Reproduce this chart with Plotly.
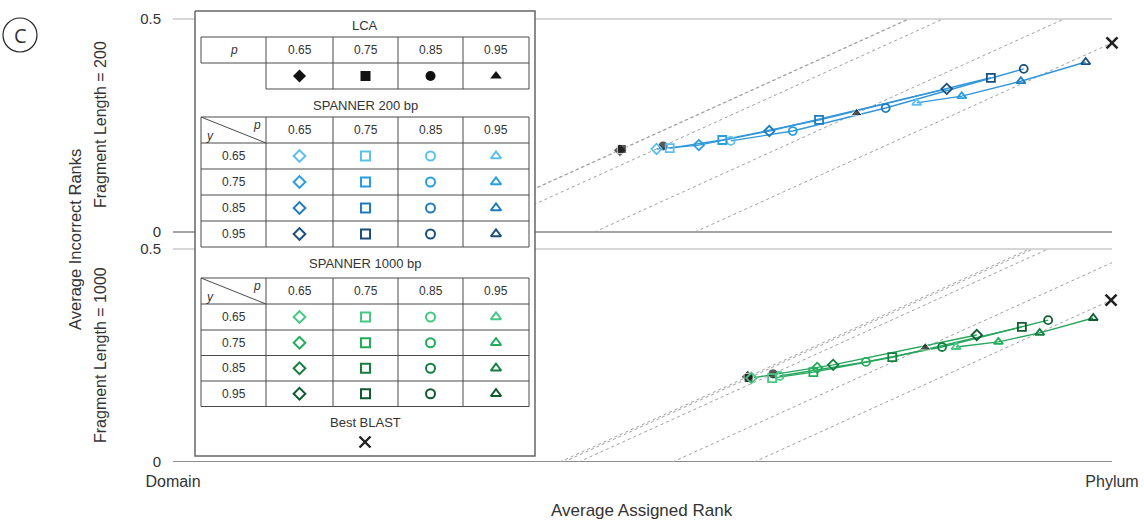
import plotly.graph_objects as go

# ---------------- data ----------------
P_LABELS = ["0.65", "0.75", "0.85", "0.95"]   # columns (p)
Y_LABELS = ["0.65", "0.75", "0.85", "0.95"]   # rows (y)
SYMBOLS = ["diamond", "square", "circle", "triangle-up"]
X_TICKS = ["Domain", "Phylum"]

# Fragment length = 200
lca200_x = [0.476, 0.478, 0.522, 0.728]
lca200_y = [0.192, 0.195, 0.202, 0.279]
blast200_x = [1.000]
blast200_y = [0.444]
sp200_x = [
    [0.515, 0.529, 0.594, 0.792],
    [0.560, 0.585, 0.660, 0.840],
    [0.635, 0.688, 0.759, 0.903],
    [0.824, 0.871, 0.906, 0.972],
]
sp200_y = [
    [0.195, 0.197, 0.214, 0.303],
    [0.204, 0.216, 0.237, 0.319],
    [0.237, 0.263, 0.291, 0.354],
    [0.336, 0.362, 0.383, 0.399],
]

# Fragment length = 1000
lca1000_x = [0.612, 0.613, 0.639, 0.801]
lca1000_y = [0.200, 0.197, 0.207, 0.269]
blast1000_x = [0.999]
blast1000_y = [0.380]
sp1000_x = [
    [0.616, 0.638, 0.646, 0.834],
    [0.686, 0.682, 0.738, 0.879],
    [0.703, 0.766, 0.819, 0.923],
    [0.856, 0.904, 0.932, 0.980],
]
sp1000_y = [
    [0.197, 0.197, 0.202, 0.270],
    [0.221, 0.211, 0.235, 0.282],
    [0.228, 0.246, 0.270, 0.303],
    [0.298, 0.317, 0.333, 0.338],
]

BLUES = ["#5cc0ef", "#2a9de0", "#1f7dbd", "#1b4f7c"]
GREENS = ["#46c883", "#22ad5a", "#14803f", "#0f5a31"]
BLUE_LINE = "#3296d8"
GREEN_LINE = "#26a65c"

# ---------------- layout geometry ----------------
W, H = 1144, 529
PX_L, PX_R = 173, 1112          # Domain / Phylum pixel columns
PY_BOT, PY_TOP = 462, 5         # plot area bottom / top
YPX = 426.0                     # pixels per y unit
TOP_OFF = (462 - 232) / YPX     # offset of the upper panel


def dx(px):
    return (px - PX_L) / (PX_R - PX_L)


def dy(py):
    return (PY_BOT - py) / YPX


def ppx(px):
    return (px - PX_L) / (PX_R - PX_L)


def ppy(py):
    return (PY_BOT - py) / (PY_BOT - PY_TOP)


FONT = "Liberation Sans, Arial, Helvetica, sans-serif"
fig = go.Figure()
shapes = []
ann = []

# panel horizontal lines
for off in (0.0, TOP_OFF):
    shapes.append(dict(type="line", xref="x", yref="y", x0=0, x1=1, y0=off + 0.5, y1=off + 0.5,
                       line=dict(color="#c9c9c9", width=1.5), layer="below"))
shapes.append(dict(type="line", xref="x", yref="y", x0=0, x1=1, y0=TOP_OFF, y1=TOP_OFF,
                   line=dict(color="#858585", width=1.5), layer="below"))
shapes.append(dict(type="line", xref="x", yref="y", x0=0, x1=1, y0=0, y1=0,
                   line=dict(color="#8c8c8c", width=2), layer="below"))


def panel(off, lca_x, lca_y, bl_x, bl_y, sx, sy, colors, line_color):
    # iso lines through reference points (LCA + BLAST)
    for x0, y0 in list(zip(lca_x, lca_y)) + list(zip(bl_x, bl_y)):
        c = x0 - y0
        xa = max(c, 0.0)
        xb = min(1.0, c + 0.5)
        fig.add_trace(go.Scatter(x=[xa, xb], y=[xa - c + off, xb - c + off], mode="lines",
                                 line=dict(color="#a0a0a0", width=1, dash="dot"),
                                 hoverinfo="skip"))
    # connecting lines (same p across y)
    for j in range(4):
        fig.add_trace(go.Scatter(x=[sx[i][j] for i in range(4)],
                                 y=[sy[i][j] + off for i in range(4)], mode="lines",
                                 line=dict(color=line_color, width=1.4), hoverinfo="skip"))
    # LCA markers
    fig.add_trace(go.Scatter(x=lca_x, y=[v + off for v in lca_y], mode="markers",
                             marker=dict(symbol=SYMBOLS, color="#111", size=[10, 9, 10, 10]),
                             cliponaxis=False))
    # SPANNER markers
    for i in range(4):
        fig.add_trace(go.Scatter(x=sx[i], y=[v + off for v in sy[i]], mode="markers",
                                 marker=dict(symbol=[s + "-open" for s in SYMBOLS], color=colors[i],
                                             size=8, line=dict(width=1.8, color=colors[i])),
                                 cliponaxis=False))
    # BLAST
    fig.add_trace(go.Scatter(x=bl_x, y=[v + off for v in bl_y], mode="markers",
                             marker=dict(symbol="x-thin-open", color="#222", size=11,
                                         line=dict(width=2.6, color="#222")),
                             cliponaxis=False))


panel(TOP_OFF, lca200_x, lca200_y, blast200_x, blast200_y, sp200_x, sp200_y, BLUES, BLUE_LINE)
panel(0.0, lca1000_x, lca1000_y, blast1000_x, blast1000_y, sp1000_x, sp1000_y, GREENS, GREEN_LINE)

# ---------------- legend table ----------------
BX0, BY0, BX1, BY1 = 195, 11, 535, 456
fig.add_trace(go.Scatter(x=[dx(BX0), dx(BX1), dx(BX1), dx(BX0), dx(BX0)],
                         y=[dy(BY0), dy(BY0), dy(BY1), dy(BY1), dy(BY0)],
                         mode="lines", fill="toself", fillcolor="white",
                         line=dict(color="#666", width=1.5), hoverinfo="skip"))

COLS = [201, 266, 333, 398, 463, 529]
CC = [(COLS[k] + COLS[k + 1]) / 2 for k in range(5)]
MID = (BX0 + BX1) / 2
TL = dict(color="#4a4a4a", width=1)


def hline(py, xa, xb):
    shapes.append(dict(type="line", xref="x", yref="y", x0=dx(xa), x1=dx(xb), y0=dy(py), y1=dy(py),
                       line=TL, layer="above"))


def vline(px, ya, yb):
    shapes.append(dict(type="line", xref="x", yref="y", x0=dx(px), x1=dx(px), y0=dy(ya), y1=dy(yb),
                       line=TL, layer="above"))


def text(px, py, s, size=12, **kw):
    ann.append(dict(x=dx(px), y=dy(py), xref="x", yref="y", text=s, showarrow=False,
                    xanchor="center", yanchor="middle",
                    font=dict(size=size, color="#333", family=FONT), **kw))


# LCA table
LR = [37, 63, 89]
text(MID, 25, "LCA", 13)
hline(LR[0], COLS[0], COLS[5])
hline(LR[1], COLS[0], COLS[5])
hline(LR[2], COLS[1], COLS[5])
for k, c in enumerate(COLS):
    vline(c, LR[0], LR[1])
    if k >= 1:
        vline(c, LR[1], LR[2])
text(CC[0], (LR[0] + LR[1]) / 2, "<i>p</i>")
for j in range(4):
    text(CC[j + 1], (LR[0] + LR[1]) / 2, P_LABELS[j])
fig.add_trace(go.Scatter(x=[dx(CC[j + 1]) for j in range(4)], y=[dy((LR[1] + LR[2]) / 2)] * 4,
                         mode="markers", marker=dict(symbol=SYMBOLS, color="#111", size=10),
                         hoverinfo="skip"))


def spanner_table(title_py, rows, colors, title):
    text(MID, title_py, title, 13)
    for r in rows:
        hline(r, COLS[0], COLS[5])
    for c in COLS:
        vline(c, rows[0], rows[-1])
    shapes.append(dict(type="line", xref="x", yref="y", x0=dx(COLS[0]), y0=dy(rows[0]),
                       x1=dx(COLS[1]), y1=dy(rows[1]), line=TL, layer="above"))
    text(COLS[0] + 9, rows[1] - 7, "<i>y</i>")
    text(COLS[1] - 9, rows[0] + 8, "<i>p</i>")
    for j in range(4):
        text(CC[j + 1], (rows[0] + rows[1]) / 2, P_LABELS[j])
    for i in range(4):
        cy = (rows[i + 1] + rows[i + 2]) / 2
        text(CC[0], cy, Y_LABELS[i])
        fig.add_trace(go.Scatter(x=[dx(CC[j + 1]) for j in range(4)], y=[dy(cy)] * 4,
                                 mode="markers",
                                 marker=dict(symbol=[s + "-open" for s in SYMBOLS], color=colors[i],
                                             size=9, line=dict(width=2, color=colors[i])),
                                 hoverinfo="skip"))


spanner_table(105, [117, 143, 169, 195, 221, 247], BLUES, "SPANNER 200 bp")
spanner_table(263, [278, 304, 330, 355.5, 381, 406.5], GREENS, "SPANNER 1000 bp")
text(MID, 422, "Best BLAST", 13)
fig.add_trace(go.Scatter(x=[dx(MID)], y=[dy(442)], mode="markers",
                         marker=dict(symbol="x-thin-open", color="#222", size=11,
                                     line=dict(width=2.4, color="#222")), hoverinfo="skip"))

# ---------------- titles ----------------
def ptext(px, py, s, size, angle=0, family=FONT):
    ann.append(dict(x=ppx(px), y=ppy(py), xref="paper", yref="paper", text=s, showarrow=False,
                    xanchor="center", yanchor="middle", textangle=angle,
                    font=dict(size=size, color="#333", family=family)))


ptext(642, 511, "Average Assigned Rank", 17)
ptext(75, 240, "Average Incorrect Ranks", 16.5, -90)
ptext(100, 125, "Fragment Length = 200", 16, -90)
ptext(100, 355, "Fragment Length = 1000", 16, -90)
ptext(20, 35, "C", 20, family="Open Sans, Lato, sans-serif")
shapes.append(dict(type="circle", xref="paper", yref="paper", x0=ppx(3), x1=ppx(37),
                   y0=ppy(52), y1=ppy(18), line=dict(color="#222", width=1.2)))

fig.update_layout(
    width=W, height=H,
    margin=dict(l=PX_L, r=W - PX_R, t=PY_TOP, b=H - PY_BOT),
    plot_bgcolor="white", paper_bgcolor="white", showlegend=False,
    font=dict(family=FONT, color="#333"),
    shapes=shapes, annotations=ann,
    xaxis=dict(range=[0, 1], tickvals=[0, 1], ticktext=X_TICKS, showgrid=False, zeroline=False,
               showline=False, ticks="", ticklabelstandoff=8, tickfont=dict(size=16)),
    yaxis=dict(range=[0, (PY_BOT - PY_TOP) / YPX], tickvals=[0, 0.5, TOP_OFF, TOP_OFF + 0.5],
               ticktext=["0", "0.5", "0", "0.5"], showgrid=False, zeroline=False, showline=False,
               ticks="", ticklabelstandoff=11, tickfont=dict(size=15)),
)

fig.write_html("out.html", config={"displayModeBar": False},
               post_script="document.body.style.margin='0';")
